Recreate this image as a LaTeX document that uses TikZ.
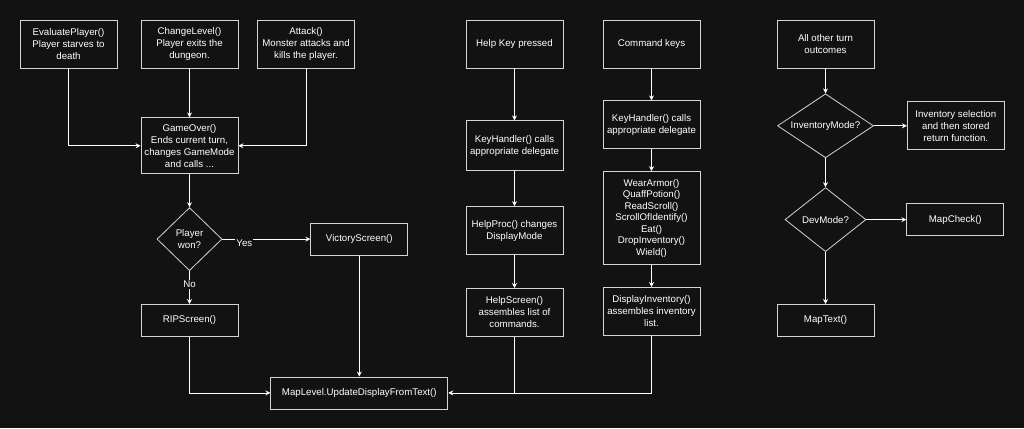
\documentclass[tikz,border=0pt]{standalone}
\usepackage{fontspec}
\setmainfont{Liberation Sans}
\usetikzlibrary{arrows.meta, positioning, shapes.geometric}
\definecolor{bgdark}{HTML}{121212}
\definecolor{edgegray}{HTML}{D4D4D4}

\begin{document}
\begin{tikzpicture}[
    x=1pt, y=-1pt,
    node distance=30pt,
    stepbox/.style={rectangle, draw=edgegray, fill=bgdark, line width=0.8pt, minimum width=97pt, minimum height=48pt, inner sep=2pt, align=center, text=white, font=\fontsize{9.7}{12}\selectfont},
    shortbox/.style={stepbox, minimum height=32pt},
    decision/.style={diamond, draw=edgegray, fill=bgdark, line width=0.8pt, inner sep=0pt, aspect=1.5, align=center, text=white, font=\fontsize{9.7}{12}\selectfont},
    arrow/.style={-{Stealth[length=5pt,width=5pt]}, line width=0.8pt, draw=white},
    link/.style={line width=0.8pt, draw=white},
    branch/.style={fill=bgdark, text=white, inner sep=1pt, font=\fontsize{9.7}{12}\selectfont}
]

% background
\fill[bgdark] (0,0) rectangle (1024,428);

% game over column
\node[stepbox] (evaluate) at (68.5,44) {EvaluatePlayer()\\Player starves to\\death};
\node[stepbox] (changelevel) at (189.5,44) {ChangeLevel()\\Player exits the\\dungeon.};
\node[stepbox] (attack) at (306,44) {Attack()\\Monster attacks and\\kills the player.};
\node[stepbox, minimum height=56pt, below=49pt of changelevel] (gameover) {GameOver()\\Ends current turn,\\changes GameMode\\and calls ...};
\node[decision, minimum width=65pt, minimum height=63pt, below=33pt of gameover] (won) {Player\\won?};
\node[shortbox, right=88pt of won] (victory) {VictoryScreen()};
\node[shortbox, below=33pt of won] (rip) {RIPScreen()};
\node[shortbox, minimum width=177pt, below=121pt of victory] (maplevel) {MapLevel.UpdateDisplayFromText()};

% help key column
\node[stepbox] (helpkey) at (514.5,44) {Help Key pressed};
\node[stepbox, minimum height=50pt, below=52pt of helpkey] (helphandler) {KeyHandler() calls\\appropriate delegate};
\node[stepbox, below=35pt of helphandler] (helpproc) {HelpProc() changes\\DisplayMode};
\node[stepbox, below=33pt of helpproc] (helpscreen) {HelpScreen()\\assembles list of\\commands.};

% command keys column
\node[stepbox] (cmdkeys) at (651.5,44) {Command keys};
\node[stepbox, below=32pt of cmdkeys] (cmdhandler) {KeyHandler() calls\\appropriate delegate};
\node[stepbox, minimum height=93pt, font=\fontsize{9.7}{11.5}\selectfont, below=22pt of cmdhandler] (actions) {WearArmor()\\QuaffPotion()\\ReadScroll()\\ScrollOfIdentify()\\Eat()\\DropInventory()\\Wield()};
\node[stepbox, below=22pt of actions] (dispinv) {DisplayInventory()\\assembles inventory\\list.};

% other outcomes column
\node[stepbox] (others) at (825.5,44) {All other turn\\outcomes};
\node[decision, minimum width=96pt, minimum height=64pt, below=25pt of others] (invmode) {InventoryMode?};
\node[stepbox, right=33pt of invmode] (invselect) {Inventory selection\\and then stored\\return function.};
\node[decision, minimum width=81pt, minimum height=64pt, below=29pt of invmode] (devmode) {DevMode?};
\node[shortbox, right=40pt of devmode] (mapcheck) {MapCheck()};
\node[shortbox, below=52pt of devmode] (maptext) {MapText()};

% connectors
\draw[arrow] (evaluate.south) |- (gameover.west);
\draw[arrow] (changelevel) -- (gameover);
\draw[arrow] (attack.south) |- (gameover.east);
\draw[arrow] (gameover) -- (won);
\draw[arrow] (won) -- node[branch, pos=0.25, yshift=-4pt] {Yes} (victory);
\draw[arrow] (won) -- node[branch, pos=0.4] {No} (rip);
\draw[arrow] (rip.south) |- (maplevel.west);
\draw[arrow] (victory) -- (maplevel);

\draw[arrow] (helpkey) -- (helphandler);
\draw[arrow] (helphandler) -- (helpproc);
\draw[arrow] (helpproc) -- (helpscreen);
\draw[link] (helpscreen.south) -- (helpscreen.south |- maplevel.east);

\draw[arrow] (cmdkeys) -- (cmdhandler);
\draw[arrow] (cmdhandler) -- (actions);
\draw[arrow] (actions) -- (dispinv);
\draw[arrow] (dispinv.south) |- (maplevel.east);

\draw[arrow] (others) -- (invmode);
\draw[arrow] (invmode) -- (invselect);
\draw[arrow] (invmode) -- (devmode);
\draw[arrow] (devmode) -- (mapcheck);
\draw[arrow] (devmode) -- (maptext);
\end{tikzpicture}
\end{document}
